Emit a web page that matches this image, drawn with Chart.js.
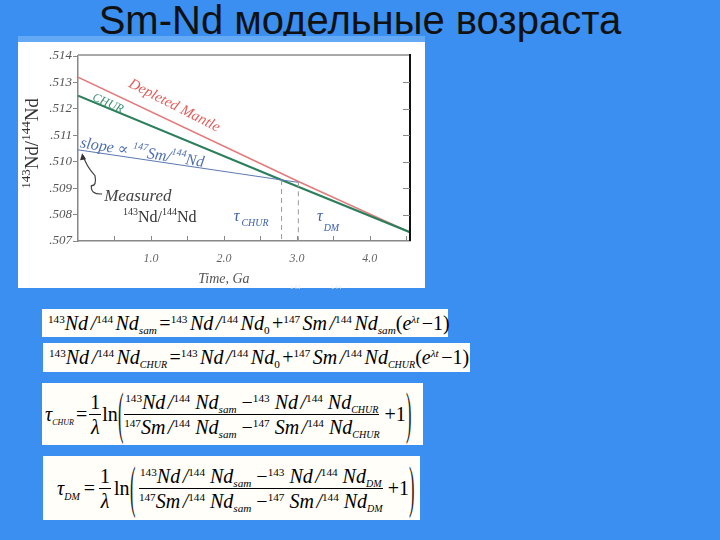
<!DOCTYPE html>
<html>
<head>
<meta charset="utf-8">
<script src="https://cdn.jsdelivr.net/npm/chart.js@4/dist/chart.umd.min.js"></script>
<style>
  body { margin: 0; width: 720px; height: 540px; background: #3a8ff0; position: relative; overflow: hidden; }
  .title { position: absolute; left: 0; top: -2px; width: 720px; text-align: center; font: 40px "Liberation Sans", Arial, sans-serif; color: #111; }
  .band { position: absolute; left: 18px; top: 36px; width: 407px; height: 6px; background: #63a9f3; }
  .panel { position: absolute; left: 18px; top: 42px; width: 407px; height: 246px; background: #fff; }
  .frag { position: absolute; top: 283px; font: 7px "Liberation Serif", serif; color: #e6ecf7; }
  .eq { position: absolute; background: #fffef8; color: #000; font: italic 20px "Liberation Serif", serif; white-space: nowrap; }
  .eq .row { position: absolute; left: 6px; top: 0; height: 100%; display: flex; align-items: center; }
  .eq sup { font-size: 0.56em; font-style: normal; vertical-align: 0.62em; line-height: 0; }
  .eq sub { font-size: 0.56em; vertical-align: -0.4em; line-height: 0; }
  .eq sub.c { font-size: 0.5em; }
  .eq .n { font-style: normal; }
  .s { display: inline-block; width: 2.5px; }
  .w { display: inline-block; width: 5px; }
  .tau sub { font-size: 0.4em; vertical-align: -0.45em; }
  .tau sub.d { font-size: 0.5em; }
  .frac { display: inline-flex; flex-direction: column; align-items: center; margin: 0 1px; line-height: 24px; }
  .frac > span:first-child { border-bottom: 1px solid #000; padding: 0 1px; }
  .paren { display: inline-block; font-style: normal; font-size: 22px; transform: scale(0.75, 2.6); margin: 0 -1px; color: #222; }
</style>
</head>
<body>
<div class="title">Sm-Nd модельные возраста</div>
<div class="band"></div>
<div class="panel"><canvas id="chart" width="407" height="246"></canvas></div>
<div class="frag" style="left:290px">143</div>
<div class="frag" style="left:331px">144</div>

<div class="eq" style="left:42px;top:309px;width:406px;height:28px;">
  <div class="row">
    <span><sup>143</sup>Nd<i class="s"></i>/<sup>144</sup><i class="s"></i>Nd<sub>sam</sub><i class="s"></i><span class="n">=</span><sup>143</sup><i class="s"></i>Nd<i class="s"></i>/<sup>144</sup><i class="s"></i>Nd<sub class="n">0</sub><i class="s"></i><span class="n">+</span><sup>147</sup><i class="s"></i>Sm<i class="s"></i>/<sup>144</sup><i class="s"></i>Nd<sub>sam</sub><span class="n">(</span>e<sup style="font-style:italic">λt</sup><i class="s"></i><span class="n">−1)</span></span>
  </div>
</div>

<div class="eq" style="left:43px;top:343px;width:427px;height:29px;">
  <div class="row">
    <span><sup>143</sup>Nd<i class="s"></i>/<sup>144</sup><i class="s"></i>Nd<sub class="c">CHUR</sub><i class="s"></i><span class="n">=</span><sup>143</sup><i class="s"></i>Nd<i class="s"></i>/<sup>144</sup><i class="s"></i>Nd<sub class="n">0</sub><i class="s"></i><span class="n">+</span><sup>147</sup><i class="s"></i>Sm<i class="s"></i>/<sup>144</sup><i class="s"></i>Nd<sub class="c">CHUR</sub><span class="n">(</span>e<sup style="font-style:italic">λt</sup><i class="s"></i><span class="n">−1)</span></span>
  </div>
</div>

<div class="eq" style="left:42px;top:383px;width:381px;height:62px;">
  <div class="row" style="left:3px">
    <span class="tau">τ<sub>CHUR</sub></span>
    <span class="n" style="margin:0 1px 0 2px">=</span>
    <span class="frac n"><span>1</span><span style="font-style:italic">λ</span></span>
    <span class="n">ln</span>
    <span class="paren">(</span>
    <span class="frac">
      <span><sup>143</sup>Nd<i class="s"></i>/<sup>144</sup><i class="w"></i>Nd<sub>sam</sub><i class="w"></i><span class="n">−</span><sup>143</sup><i class="w"></i>Nd<i class="s"></i>/<sup>144</sup><i class="w"></i>Nd<sub class="c">CHUR</sub></span>
      <span><sup>147</sup>Sm<i class="s"></i>/<sup>144</sup><i class="w"></i>Nd<sub>sam</sub><i class="w"></i><span class="n">−</span><sup>147</sup><i class="w"></i>Sm<i class="s"></i>/<sup>144</sup><i class="w"></i>Nd<sub class="c">CHUR</sub></span>
    </span>
    <span class="n" style="margin-left:4px">+1</span>
    <span class="paren">)</span>
  </div>
</div>

<div class="eq" style="left:43px;top:456px;width:377px;height:64px;">
  <div class="row" style="left:14px">
    <span class="tau">τ<sub class="d">DM</sub></span>
    <span class="n" style="margin:0 3px 0 4px">=</span>
    <span class="frac n"><span>1</span><span style="font-style:italic">λ</span></span>
    <span class="n" style="margin-left:2px">ln</span>
    <span class="paren">(</span>
    <span class="frac" style="margin-left:4px">
      <span><sup>143</sup>Nd<i class="s"></i>/<sup>144</sup><i class="w"></i>Nd<sub>sam</sub><i class="w"></i><span class="n">−</span><sup>143</sup><i class="w"></i>Nd<i class="s"></i>/<sup>144</sup><i class="w"></i>Nd<sub class="c">DM</sub></span>
      <span><sup>147</sup>Sm<i class="s"></i>/<sup>144</sup><i class="w"></i>Nd<sub>sam</sub><i class="w"></i><span class="n">−</span><sup>147</sup><i class="w"></i>Sm<i class="s"></i>/<sup>144</sup><i class="w"></i>Nd<sub class="c">DM</sub></span>
    </span>
    <span class="n" style="margin-left:4px">+1</span>
    <span class="paren">)</span>
  </div>
</div>

<script>
// time in Ga, ratios 143Nd/144Nd
const dmTime = [0, 3.02, 4.55];
const dmRatio = [0.5132, 0.50925, 0.50733];
const churTime = [0, 2.79, 4.55];
const churRatio = [0.5125, 0.50931, 0.50733];
const measuredTime = [0, 2.79, 3.02];
const measuredRatio = [0.51045, 0.50931, 0.50922];
const tauChur = 2.79;
const tauDm = 3.02;
const yTicks = [0.507, 0.508, 0.509, 0.51, 0.511, 0.512, 0.513, 0.514];
const xLabels = [1, 2, 3, 4];

const SERIF = '"Liberation Serif", "DejaVu Serif", serif';

const toPoints = (xs, ys) => xs.map((x, i) => ({ x, y: ys[i] }));

// text with superscript (1) / subscript (2) parts, centred on x,y
const richText = (ctx, parts, x, y, opt) => {
  const size = opt.size || 14;
  const small = opt.small || 0.62;
  const italic = opt.italic === false ? '' : 'italic ';
  const fontFor = (m) => `${italic}${m ? Math.round(size * small) : size}px ${SERIF}`;
  let width = 0;
  for (const [t, m] of parts) {
    ctx.font = fontFor(m);
    width += ctx.measureText(t).width;
  }
  ctx.save();
  ctx.translate(x, y);
  ctx.rotate(((opt.angle || 0) * Math.PI) / 180);
  ctx.fillStyle = opt.color || '#333';
  ctx.textBaseline = 'middle';
  let cx = -width / 2;
  for (const [t, m] of parts) {
    ctx.font = fontFor(m);
    const dy = m === 1 ? -size * 0.35 : m === 2 ? size * (opt.subDrop || 0.45) : 0;
    ctx.fillText(t, cx, dy);
    cx += ctx.measureText(t).width + (m === 0 && opt.gap ? opt.gap : 0);
  }
  ctx.restore();
};

const frame = {
  id: 'frame',
  afterDatasetsDraw(chart) {
    const { ctx, chartArea: a, scales: { x, y } } = chart;
    ctx.save();
    // top border
    ctx.strokeStyle = '#a8a8a8';
    ctx.lineWidth = 2;
    ctx.beginPath();
    ctx.moveTo(a.left, a.top - 1);
    ctx.lineTo(a.right, a.top - 1);
    ctx.stroke();
    // right border
    ctx.strokeStyle = '#111';
    ctx.beginPath();
    ctx.moveTo(a.right, a.top - 2);
    ctx.lineTo(a.right, a.bottom);
    ctx.stroke();
    // inward ticks
    ctx.strokeStyle = '#888';
    ctx.lineWidth = 1;
    ctx.beginPath();
    for (const t of x.ticks) {
      if (t.value <= 0) continue;
      const px = Math.round(x.getPixelForValue(t.value)) + 0.5;
      ctx.moveTo(px, a.bottom);
      ctx.lineTo(px, a.bottom - 5);
    }
    for (const v of yTicks.slice(1, -1)) {
      const py = Math.round(y.getPixelForValue(v)) + 0.5;
      ctx.moveTo(a.right, py);
      ctx.lineTo(a.right - 7, py);
    }
    ctx.stroke();
    ctx.restore();

    // axis titles
    richText(ctx, [['Time, Ga', 0]], x.getPixelForValue(2.0), a.bottom + 38, { size: 14, color: '#555' });
    ctx.save();
    ctx.translate(15, (a.top + a.bottom) / 2 - 5);
    ctx.rotate(-Math.PI / 2);
    richText(ctx, [['143', 1], ['Nd/', 0], ['144', 1], ['Nd', 0]], 0, 0, { size: 19, small: 0.68, color: '#333', italic: false });
    ctx.restore();

    // line labels
    const P = (vx, vy) => [x.getPixelForValue(vx), y.getPixelForValue(vy)];
    richText(ctx, [['Depleted Mantle', 0]], ...P(1.32, 0.51212), { size: 15, color: '#e0615f', angle: 27 });
    richText(ctx, [['CHUR', 0]], ...P(0.41, 0.5122), { size: 12, color: '#3a8f6f', angle: 24 });
    richText(ctx, [['slope ∝ ', 0], ['147', 1], ['Sm/', 0], ['144', 1], ['Nd', 0]], ...P(0.88, 0.51033), { size: 16, color: '#4f6fb2', angle: 9 });
    richText(ctx, [['Measured', 0]], ...P(0.82, 0.50868), { size: 17, color: '#444' });
    richText(ctx, [['143', 1], ['Nd/', 0], ['144', 1], ['Nd', 0]], ...P(1.12, 0.50787), { size: 16, color: '#333', italic: false });
    richText(ctx, [['τ', 0], ['CHUR', 2]], ...P(2.36, 0.50792), { size: 16, color: '#3f62aa', subDrop: 0.4, gap: 2 });
    richText(ctx, [['τ', 0], ['DM', 2]], ...P(3.42, 0.50792), { size: 16, color: '#3f62aa', subDrop: 0.75, gap: 1 });

    // curly arrow from "Measured" to the measured ratio
    const p0 = P(0.33, 0.50878);
    const p1 = P(0.17, 0.50898);
    const p2 = P(0.26, 0.50932);
    const p3 = P(0.11, 0.50984);
    const p4 = P(0.07, 0.51024);
    ctx.save();
    ctx.strokeStyle = '#444';
    ctx.lineWidth = 1.2;
    ctx.beginPath();
    ctx.moveTo(...p0);
    ctx.quadraticCurveTo(p1[0], p1[1] + 6, p1[0] + 1, p1[1] - 3);
    ctx.quadraticCurveTo(p2[0], p2[1] + 6, p2[0] - 2, p2[1] - 4);
    ctx.quadraticCurveTo(p3[0], p3[1], p4[0], p4[1]);
    ctx.stroke();
    ctx.fillStyle = '#333';
    ctx.beginPath();
    ctx.moveTo(p4[0] - 1, p4[1] - 2);
    ctx.lineTo(p4[0] - 3, p4[1] + 5);
    ctx.lineTo(p4[0] + 3, p4[1] + 4);
    ctx.closePath();
    ctx.fill();
    ctx.restore();
  },
};

const line = (label, xs, ys, color, width, dash) => ({
  label,
  data: toPoints(xs, ys),
  borderColor: color,
  borderWidth: width,
  borderDash: dash || [],
  pointRadius: 0,
  showLine: true,
  fill: false,
  tension: 0,
});

new Chart(document.getElementById('chart'), {
  type: 'scatter',
  data: {
    datasets: [
      line('tauChur', [tauChur, tauChur], [measuredRatio[1], 0.507], '#999', 1, [5, 4]),
      line('tauDm', [tauDm, tauDm], [measuredRatio[2], 0.507], '#999', 1, [5, 4]),
      line('Measured', measuredTime, measuredRatio, '#5b79b0', 1),
      line('CHUR', churTime, churRatio, '#2c7f5c', 2.2),
      line('Depleted Mantle', dmTime, dmRatio, '#e47a7a', 1.6),
    ],
  },
  options: {
    responsive: false,
    devicePixelRatio: 1,
    animation: false,
    layout: { padding: { top: 14, right: 15, left: 0, bottom: 0 } },
    plugins: { legend: { display: false }, tooltip: { enabled: false } },
    scales: {
      x: {
        type: 'linear',
        min: 0,
        max: 4.55,
        afterFit: (s) => { s.height = 47; },
        border: { display: true, color: '#888', width: 1.5 },
        grid: { drawOnChartArea: false, drawTicks: false },
        ticks: {
          stepSize: 0.5,
          includeBounds: false,
          autoSkip: false,
          maxRotation: 0,
          padding: 11,
          color: '#666',
          font: { family: SERIF, size: 12, style: 'italic' },
          callback: (v) => (xLabels.includes(v) ? v.toFixed(1) : ''),
        },
      },
      y: {
        type: 'linear',
        min: yTicks[0],
        max: yTicks[yTicks.length - 1],
        afterFit: (s) => { s.width = 60; },
        border: { display: true, color: '#888', width: 1.5 },
        grid: { drawOnChartArea: false, drawTicks: true, tickLength: 5, color: '#888' },
        afterBuildTicks: (s) => { s.ticks = yTicks.map((v) => ({ value: v })); },
        ticks: {
          padding: 1,
          color: '#555',
          font: { family: SERIF, size: 13, style: 'italic' },
          callback: (v) => v.toFixed(3).replace('0.', '.'),
        },
      },
    },
  },
  plugins: [frame],
});
</script>
</body>
</html>
